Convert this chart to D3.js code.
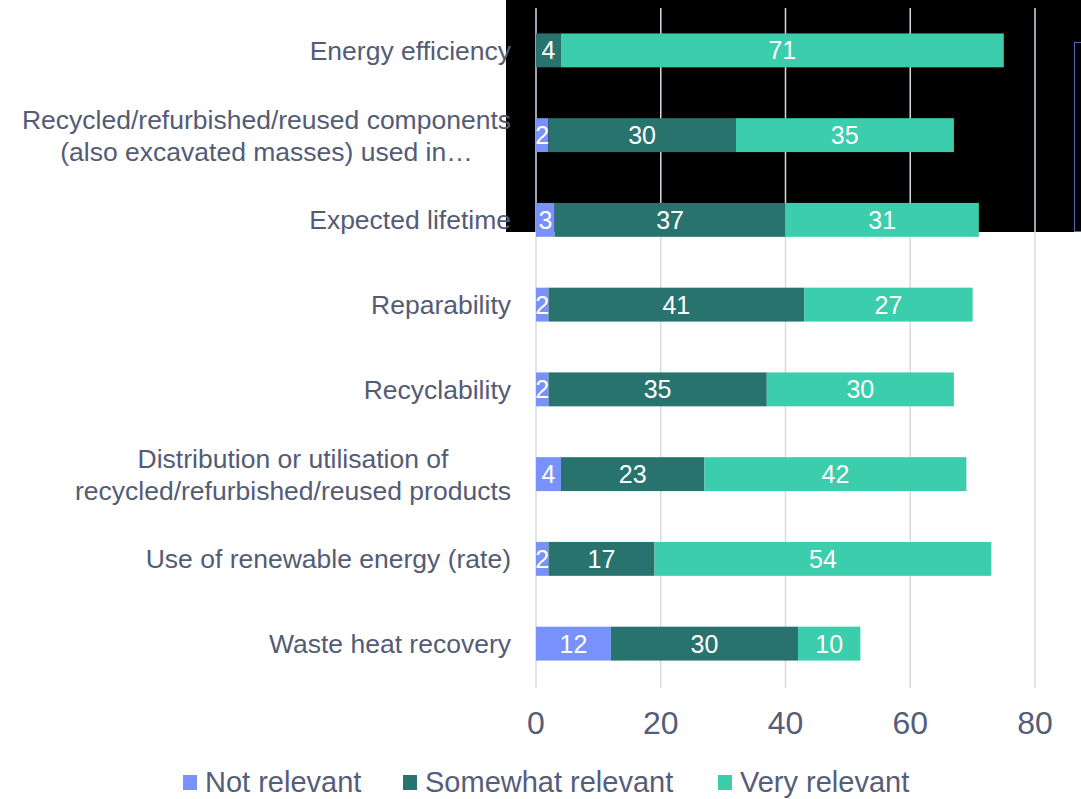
<!DOCTYPE html>
<html><head><meta charset="utf-8">
<script src="https://cdn.jsdelivr.net/npm/d3@7"></script>
<style>body{margin:0;background:#fff}svg{display:block}</style>
</head><body>
<script>
const categories = [
  ["Energy efficiency"],
  ["Recycled/refurbished/reused components","(also excavated masses) used in…"],
  ["Expected lifetime"],
  ["Reparability"],
  ["Recyclability"],
  ["Distribution or utilisation of","recycled/refurbished/reused products"],
  ["Use of renewable energy (rate)"],
  ["Waste heat recovery"]
];
const seriesNames = ["Not relevant","Somewhat relevant","Very relevant"];
const notRelevant = [0,2,3,2,2,4,2,12];
const somewhatRelevant = [4,30,37,41,35,23,17,30];
const veryRelevant = [71,35,31,27,30,42,54,10];
const xTicks = [0,20,40,60,80];
const colors = ["#7891fb","#29736f","#3ccdac"];

const W=1081,H=799;
const svg=d3.select("body").append("svg").attr("width",W).attr("height",H).style("font-family","'Liberation Sans',Arial,sans-serif");

// dark overlay panel from the reference
svg.append("rect").attr("x",506).attr("y",0).attr("width",W-506).attr("height",232).attr("fill","#000");
svg.append("rect").attr("x",1074.5).attr("y",42.5).attr("width",20).attr("height",189).attr("fill","none").attr("stroke","#5866b8").attr("stroke-width",1);

const x=d3.scaleLinear().domain([0,80]).range([536,1035]);
const keys=categories.map((c,i)=>i);
const y=d3.scaleBand().domain(keys).range([8,686]).paddingInner(0.6).paddingOuter(0.3);

// grid
svg.append("g").selectAll("line").data(xTicks).join("line")
  .attr("x1",d=>x(d)).attr("x2",d=>x(d)).attr("y1",8).attr("y2",688)
  .attr("stroke","#d9d9e3").attr("stroke-width",1.5);

const rows=categories.map((c,i)=>({i,v:[notRelevant[i],somewhatRelevant[i],veryRelevant[i]]}));
const segs=[];
rows.forEach(r=>{let acc=0;r.v.forEach((v,k)=>{segs.push({i:r.i,k,v,x0:acc,x1:acc+v});acc+=v;});});

svg.append("g").selectAll("rect").data(segs.filter(s=>s.v>0)).join("rect")
  .attr("x",s=>x(s.x0)).attr("width",s=>x(s.x1)-x(s.x0))
  .attr("y",s=>y(s.i)).attr("height",y.bandwidth())
  .attr("fill",s=>colors[s.k]);

svg.append("g").selectAll("text").data(segs.filter(s=>s.v>0)).join("text")
  .attr("x",s=>(x(s.x0)+x(s.x1))/2).attr("y",s=>y(s.i)+y.bandwidth()/2)
  .attr("dy","0.36em").attr("text-anchor","middle")
  .attr("fill","#fff").attr("font-size",25).text(s=>s.v);

// category labels
const lab=svg.append("g");
categories.forEach((lines,i)=>{
  const cy=y(i)+y.bandwidth()/2;
  const g=lab.append("g");
  const lh=32;
  const texts=lines.map((t,j)=>g.append("text").attr("font-size",26.5).attr("fill","#545b75")
    .attr("y",cy+(j-(lines.length-1)/2)*lh).attr("dy","0.36em").text(t));
  const wmax=d3.max(texts,t=>t.node().getComputedTextLength());
  const cx=511-wmax/2;
  texts.forEach(t=>t.attr("x",cx).attr("text-anchor","middle"));
});

// x tick labels
svg.append("g").selectAll("text").data(xTicks).join("text")
  .attr("x",d=>x(d)).attr("y",722).attr("dy","0.36em").attr("text-anchor","middle")
  .attr("font-size",32).attr("fill","#555d78").text(d=>d);

// legend
const legX=[183,403,718];
const leg=svg.append("g");
seriesNames.forEach((n,k)=>{
  leg.append("rect").attr("x",legX[k]).attr("y",775).attr("width",14).attr("height",15).attr("fill",colors[k]);
  leg.append("text").attr("x",legX[k]+22).attr("y",782).attr("dy","0.36em").attr("font-size",29).attr("fill","#555d78").text(n);
});
</script>
</body></html>
